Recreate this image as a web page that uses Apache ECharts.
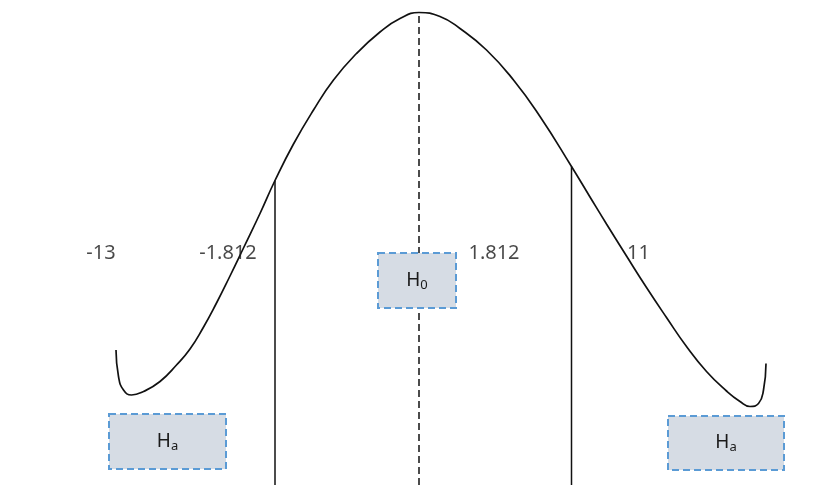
<!DOCTYPE html>
<html>
<head>
<meta charset="utf-8">
<script src="https://cdn.jsdelivr.net/npm/echarts@6/dist/echarts.min.js"></script>
<style>html,body{margin:0;padding:0;background:#fff}#c{width:828px;height:485px}</style>
</head>
<body>
<div id="c"></div>
<script>
// Curve (x in t-like units, y in density-like units)
var curveX = [-6.06,-6.01,-5.91,-5.75,-5.51,-5.18,-4.85,-4.58,-4.32,-4.06,-3.78,-3.51,-3.18,-2.88,-2.51,-2.11,-1.71,-1.25,-0.78,-0.38,0,0.42,0.82,1.35,1.89,2.42,3.05,3.42,3.75,4.15,4.55,4.95,5.35,5.75,6.15,6.42,6.62,6.79,6.89,6.94];
var curveY = [2.70,2.17,1.90,1.80,1.87,2.07,2.40,2.72,3.14,3.62,4.18,4.74,5.43,6.09,6.82,7.50,8.10,8.63,9.06,9.33,9.45,9.37,9.13,8.70,8.10,7.37,6.37,5.76,5.22,4.58,3.95,3.35,2.77,2.27,1.88,1.67,1.57,1.63,1.90,2.43];
// Critical value lines
var critX = [-2.88, 3.05];
var critTop = [6.09, 6.37];
var centerX = 0, centerTop = 9.45;
// Value labels
var valueLabels = ['-13', '-1.812', '1.812', '11'];
var valueLabelX = [-6.36, -3.82, 1.50, 4.39];
var valueLabelY = 4.64;
// Hypothesis boxes
var boxNames = ['H', 'H', 'H'];
var boxSubs = ['a', '0', 'a'];
var boxX1 = [-6.20, -0.82, 4.98];
var boxX2 = [-3.86, 0.74, 7.30];
var boxY1 = [0.32, 3.54, 0.30];
var boxY2 = [1.42, 4.64, 1.38];

var chart = echarts.init(document.getElementById('c'));
var curveData = curveX.map(function (x, i) { return [x, curveY[i]]; });
var boxData = boxX1.map(function (x, i) { return [x, boxY1[i], boxX2[i], boxY2[i], boxNames[i], boxSubs[i]]; });
var labelData = valueLabels.map(function (t, i) { return { value: [valueLabelX[i], valueLabelY], label: { formatter: t } }; });

chart.setOption({
  animation: false,
  grid: { left: 0, right: 0, top: 0, bottom: 0 },
  xAxis: { type: 'value', min: -8.38, max: 8.18, show: false },
  yAxis: { type: 'value', min: 0, max: 9.7, show: false },
  series: [
    {
      type: 'line', data: curveData, smooth: 0.5, showSymbol: false,
      lineStyle: { color: '#111', width: 1.7 }, z: 3
    },
    {
      type: 'line', data: [[critX[0], 0], [critX[0], critTop[0]]], showSymbol: false,
      lineStyle: { color: '#111', width: 1.5 }, z: 2
    },
    {
      type: 'line', data: [[critX[1], 0], [critX[1], critTop[1]]], showSymbol: false,
      lineStyle: { color: '#111', width: 1.5 }, z: 2
    },
    {
      type: 'line', data: [[centerX, 0], [centerX, centerTop]], showSymbol: false,
      lineStyle: { color: '#111', width: 1.5, type: [7, 4] }, z: 2
    },
    {
      type: 'custom', z: 5,
      renderItem: function (params, api) {
        var p1 = api.coord([api.value(0), api.value(3)]);
        var p2 = api.coord([api.value(2), api.value(1)]);
        return {
          type: 'group',
          children: [
            {
              type: 'rect',
              shape: { x: p1[0], y: p1[1], width: p2[0] - p1[0], height: p2[1] - p1[1] },
              style: { fill: '#d6dce4', stroke: '#5b9bd5', lineWidth: 2, lineDash: [7, 4] }
            },
            {
              type: 'text',
              x: (p1[0] + p2[0]) / 2, y: (p1[1] + p2[1]) / 2,
              style: {
                text: '{h|' + api.value(4) + '}{s|' + api.value(5) + '}',
                align: 'center', verticalAlign: 'middle',
                rich: {
                  h: { fontSize: 19, fontFamily: 'Noto Sans', fill: '#1a1a1a' },
                  s: { fontSize: 13, fontFamily: 'Noto Sans', fill: '#1a1a1a', padding: [9, 0, 0, 0] }
                }
              }
            }
          ]
        };
      },
      data: boxData
    },
    {
      type: 'scatter', symbolSize: 0, data: labelData, z: 6,
      label: { show: true, position: 'inside', fontSize: 20, fontFamily: 'Noto Sans', color: '#1a1a1a' }
    }
  ]
});
</script>
</body>
</html>
